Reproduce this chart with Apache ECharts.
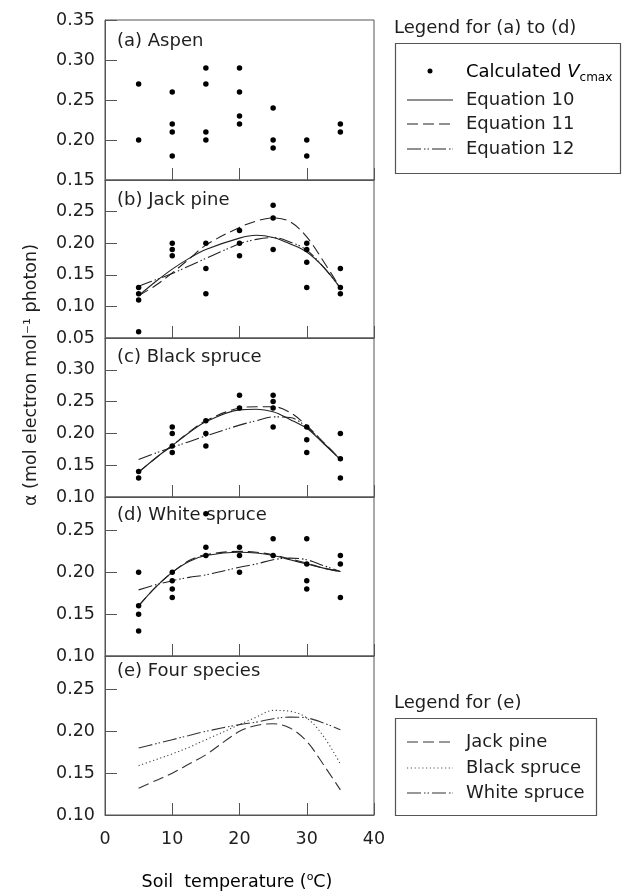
<!DOCTYPE html>
<html>
<head>
<meta charset="utf-8">
<script src="https://cdn.jsdelivr.net/npm/echarts@6/dist/echarts.min.js"></script>
<style>
html,body{margin:0;padding:0;background:#fff;}
#chart{width:622px;height:891px;}
</style>
</head>
<body>
<div id="chart"></div>
<script>
// ---------- data ----------
const temps = [5, 10, 15, 20, 25, 30, 35];
// observed alpha values, grouped by soil temperature
const aspenObs     = [[0.27,0.20],[0.26,0.22,0.21,0.18],[0.29,0.27,0.21,0.20],[0.29,0.26,0.23,0.22],[0.24,0.20,0.19],[0.20,0.18],[0.22,0.21]];
const jackPineObs  = [[0.13,0.12,0.11,0.06],[0.20,0.19,0.18],[0.20,0.16,0.12],[0.22,0.20,0.18],[0.26,0.24,0.19],[0.20,0.19,0.17,0.13],[0.16,0.13,0.12]];
const blackSprObs  = [[0.14,0.13],[0.21,0.20,0.18,0.17],[0.22,0.20,0.18],[0.26,0.24],[0.26,0.25,0.24,0.21],[0.21,0.19,0.17],[0.20,0.16,0.13]];
const whiteSprObs  = [[0.20,0.16,0.15,0.13],[0.20,0.19,0.18,0.17],[0.27,0.23,0.22],[0.23,0.22,0.20],[0.24,0.22],[0.24,0.21,0.19,0.18],[0.22,0.21,0.17]];

// fitted curves (read at these temperatures)
const curveT = [5, 7.5, 10, 12.5, 15, 20, 22.5, 25, 27.5, 30, 32.5, 35];
const jackEq10  = [0.117,0.139,0.159,0.176,0.190,0.208,0.2125,0.209,0.199,0.186,0.162,0.129];
const jackEq11  = [0.117,0.133,0.153,0.175,0.197,0.225,0.235,0.240,0.234,0.210,0.171,0.129];
const jackEq12  = [0.132,0.142,0.152,0.164,0.176,0.199,0.206,0.209,0.202,0.189,0.162,0.129];
const blackEq10 = [0.139,0.161,0.181,0.201,0.2185,0.237,0.238,0.234,0.222,0.208,0.184,0.159];
const blackEq11 = [0.139,0.161,0.181,0.202,0.220,0.240,0.242,0.242,0.233,0.212,0.186,0.159];
const blackEq12 = [0.159,0.169,0.178,0.187,0.196,0.213,0.220,0.226,0.225,0.210,0.185,0.159];
const whiteEq10 = [0.160,0.182,0.200,0.213,0.220,0.224,0.223,0.220,0.215,0.210,0.205,0.201];
const whiteEq11 = [0.160,0.182,0.200,0.214,0.221,0.225,0.224,0.221,0.216,0.211,0.205,0.201];
const whiteEq12 = [0.179,0.185,0.190,0.194,0.197,0.206,0.210,0.215,0.217,0.215,0.208,0.201];
const fourJack  = [0.132,0.141,0.150,0.161,0.172,0.200,0.207,0.209,0.204,0.188,0.160,0.130];
const fourBlack = [0.159,0.166,0.173,0.181,0.190,0.208,0.217,0.225,0.224,0.216,0.194,0.161];
const fourWhite = [0.180,0.185,0.190,0.195,0.200,0.208,0.211,0.215,0.217,0.216,0.210,0.202];

const panelTitles = ['(a) Aspen', '(b) Jack pine', '(c) Black spruce', '(d) White spruce', '(e) Four species'];
const yMins = [0.15, 0.05, 0.10, 0.10, 0.10];
const yMaxs = [0.35, 0.30, 0.35, 0.29, 0.29];

// ---------- layout / style ----------
const FONT = '"DejaVu Sans", sans-serif';
const TXT = '#1e1e1e';
const AX = '#555';
const LINE = '#222';
const gridTops = [20, 180, 338, 497, 656];
const gridHeights = [160, 158, 159, 159, 159];
const LEFT = 105, WIDTH = 269;
const dashEq11 = [11, 5];
const dashEq12 = [14, 3, 1.5, 2, 1.5, 3];
const dotted = [1.2, 2.6];

function obsPairs(groups) {
  const out = [];
  groups.forEach((g, i) => g.forEach(v => out.push([temps[i], v])));
  return out;
}
function curvePairs(vals) { return curveT.map((t, i) => [t, vals[i]]); }

const grids = [], xAxes = [], yAxes = [], series = [];
for (let i = 0; i < 5; i++) {
  grids.push({left: LEFT, top: gridTops[i], width: WIDTH, height: gridHeights[i],
    show: true, borderColor: AX, borderWidth: 1, backgroundColor: 'transparent'});
  xAxes.push({gridIndex: i, type: 'value', min: 0, max: 40, interval: 10,
    axisLine: {show: true, lineStyle: {color: AX, width: 1}},
    axisTick: {show: true, inside: true, length: 12, lineStyle: {color: AX, width: 1}},
    axisLabel: {show: i === 4, margin: 15, color: TXT, fontSize: 17.5, fontFamily: FONT},
    splitLine: {show: false}});
  yAxes.push({gridIndex: i, type: 'value', min: yMins[i], max: yMaxs[i], interval: 0.05,
    axisLine: {show: true, lineStyle: {color: AX, width: 1}},
    axisTick: {show: true, inside: true, length: 12, lineStyle: {color: AX, width: 1}},
    axisLabel: {show: true, margin: 10, color: TXT, fontSize: 17.5, fontFamily: FONT,
      showMaxLabel: i === 0, formatter: v => v.toFixed(2)},
    splitLine: {show: false}});
}

function scatter(idx, groups) {
  series.push({type: 'scatter', xAxisIndex: idx, yAxisIndex: idx, data: obsPairs(groups),
    symbol: 'circle', symbolSize: 5.5, itemStyle: {color: '#000', opacity: 1}, silent: true, z: 3});
}
function curve(idx, vals, dash, color) {
  series.push({type: 'line', xAxisIndex: idx, yAxisIndex: idx, data: curvePairs(vals),
    smooth: 0.35, showSymbol: false, symbol: 'none', silent: true,
    lineStyle: {color: color || LINE, width: 1.1, opacity: 1, type: dash || 'solid'}, z: 2});
}
scatter(0, aspenObs);
scatter(1, jackPineObs);
curve(1, jackEq10); curve(1, jackEq11, dashEq11); curve(1, jackEq12, dashEq12);
scatter(2, blackSprObs);
curve(2, blackEq10); curve(2, blackEq11, dashEq11); curve(2, blackEq12, dashEq12);
scatter(3, whiteSprObs);
curve(3, whiteEq10); curve(3, whiteEq11, dashEq11); curve(3, whiteEq12, dashEq12);
curve(4, fourJack, dashEq11, '#333'); curve(4, fourBlack, dotted, '#444'); curve(4, fourWhite, dashEq12, '#333');

// ---------- text & legends ----------
const labelYs = [41, 200, 357, 515, 671];
const graphics = [];
function text(x, y, t, opts) {
  opts = opts || {};
  graphics.push({type: 'text', x: x, y: y, rotation: opts.rotation || 0, silent: true,
    style: Object.assign({text: t, fill: TXT, font: (opts.size || 18) + 'px ' + FONT,
      textAlign: opts.align || 'left', textVerticalAlign: 'middle'}, opts.style || {})});
}
panelTitles.forEach((t, i) => text(117, labelYs[i], t));

// axis titles
text(31, 375, 'α (mol electron mol⁻¹ photon)', {size: 17.5, align: 'center', rotation: Math.PI / 2});
graphics.push({type: 'text', x: 237, y: 882, silent: true, style: {
  text: '{n|Soil  temperature (}{s|o}{n|C)}', textAlign: 'center', textVerticalAlign: 'middle',
  rich: {n: {fontSize: 17.5, fontFamily: FONT, color: TXT, lineHeight: 20},
         s: {fontSize: 11, fontFamily: FONT, color: TXT, verticalAlign: 'top', lineHeight: 11}}}});

// legend (a)-(d)
text(394, 28, 'Legend for (a) to (d)');
graphics.push({type: 'rect', shape: {x: 395.5, y: 43.5, width: 225, height: 130}, silent: true,
  style: {fill: 'none', stroke: AX, lineWidth: 1.2}});
graphics.push({type: 'circle', shape: {cx: 430, cy: 71, r: 2.5}, silent: true, style: {fill: '#000'}});
graphics.push({type: 'text', x: 466, y: 72, silent: true, style: {
  text: '{n|Calculated }{v|V}{s|cmax}', textAlign: 'left', textVerticalAlign: 'middle',
  rich: {n: {fontSize: 18, fontFamily: FONT, color: TXT, lineHeight: 24},
         v: {fontSize: 18, fontFamily: FONT, fontStyle: 'italic', color: TXT, lineHeight: 24},
         s: {fontSize: 12, fontFamily: FONT, color: TXT, verticalAlign: 'bottom', lineHeight: 12}}}});
const legA = [['Equation 10', 'solid', 100], ['Equation 11', dashEq11, 124], ['Equation 12', dashEq12, 149]];
legA.forEach(([t, d, y]) => {
  graphics.push({type: 'line', shape: {x1: 407, y1: y, x2: 453, y2: y}, silent: true,
    style: {stroke: LINE, lineWidth: 1.1, lineDash: d === 'solid' ? null : d}});
  text(466, y, t);
});

// legend (e)
text(394, 703, 'Legend for (e)');
graphics.push({type: 'rect', shape: {x: 395.5, y: 718.5, width: 201, height: 97}, silent: true,
  style: {fill: 'none', stroke: AX, lineWidth: 1.2}});
const legE = [['Jack pine', dashEq11, 742, '#333'], ['Black spruce', dotted, 768, '#555'], ['White spruce', dashEq12, 793, '#333']];
legE.forEach(([t, d, y, c]) => {
  graphics.push({type: 'line', shape: {x1: 407, y1: y, x2: 453, y2: y}, silent: true,
    style: {stroke: c, lineWidth: 1.1, lineDash: d}});
  text(466, y, t);
});

const chart = echarts.init(document.getElementById('chart'), null, {renderer: 'canvas'});
chart.setOption({
  animation: false,
  backgroundColor: '#fff',
  textStyle: {fontFamily: FONT},
  grid: grids, xAxis: xAxes, yAxis: yAxes, series: series,
  graphic: graphics
});
</script>
</body>
</html>
